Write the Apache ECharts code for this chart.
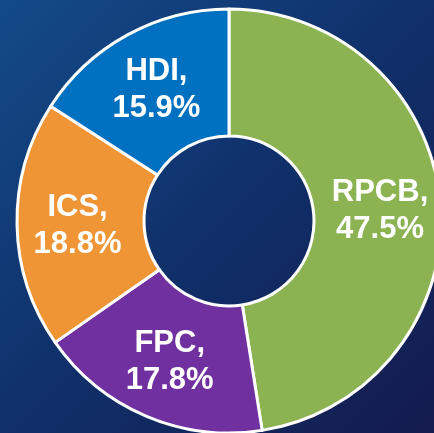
<!DOCTYPE html>
<html>
<head>
<meta charset="utf-8">
<style>
  html, body { margin: 0; padding: 0; }
  #chart { width: 434px; height: 433px; }
</style>
<script src="https://cdn.jsdelivr.net/npm/echarts@6/dist/echarts.min.js"></script>
</head>
<body>
<div id="chart"></div>
<script>
// data
var categories = ['RPCB', 'FPC', 'ICS', 'HDI'];
var shares = [47.5, 17.8, 18.8, 15.9];
var colors = ['#8cb351', '#7030a0', '#f09536', '#0070c0'];

var chart = echarts.init(document.getElementById('chart'));

var data = categories.map(function (name, i) {
    return { name: name, value: shares[i], itemStyle: { color: colors[i] } };
});

chart.setOption({
    backgroundColor: new echarts.graphic.LinearGradient(0, 0, 1, 1, [
        { offset: 0, color: '#134b89' },
        { offset: 0.5, color: '#10306a' },
        { offset: 1, color: '#141b4e' }
    ]),
    animation: false,
    series: [{
        type: 'pie',
        center: [229, 221],
        radius: [85, 212],
        startAngle: 90,
        clockwise: true,
        avoidLabelOverlap: false,
        itemStyle: {
            borderColor: '#ffffff',
            borderWidth: 3
        },
        label: {
            show: true,
            position: 'inside',
            color: '#ffffff',
            fontFamily: 'Liberation Sans, Arial, sans-serif',
            fontWeight: 'bold',
            fontSize: 31,
            lineHeight: 37,
            offset: [0, 2],
            formatter: function (p) {
                return p.name + ',\n' + p.value.toFixed(1) + '%';
            }
        },
        labelLine: { show: false },
        data: data
    }]
});
</script>
</body>
</html>
